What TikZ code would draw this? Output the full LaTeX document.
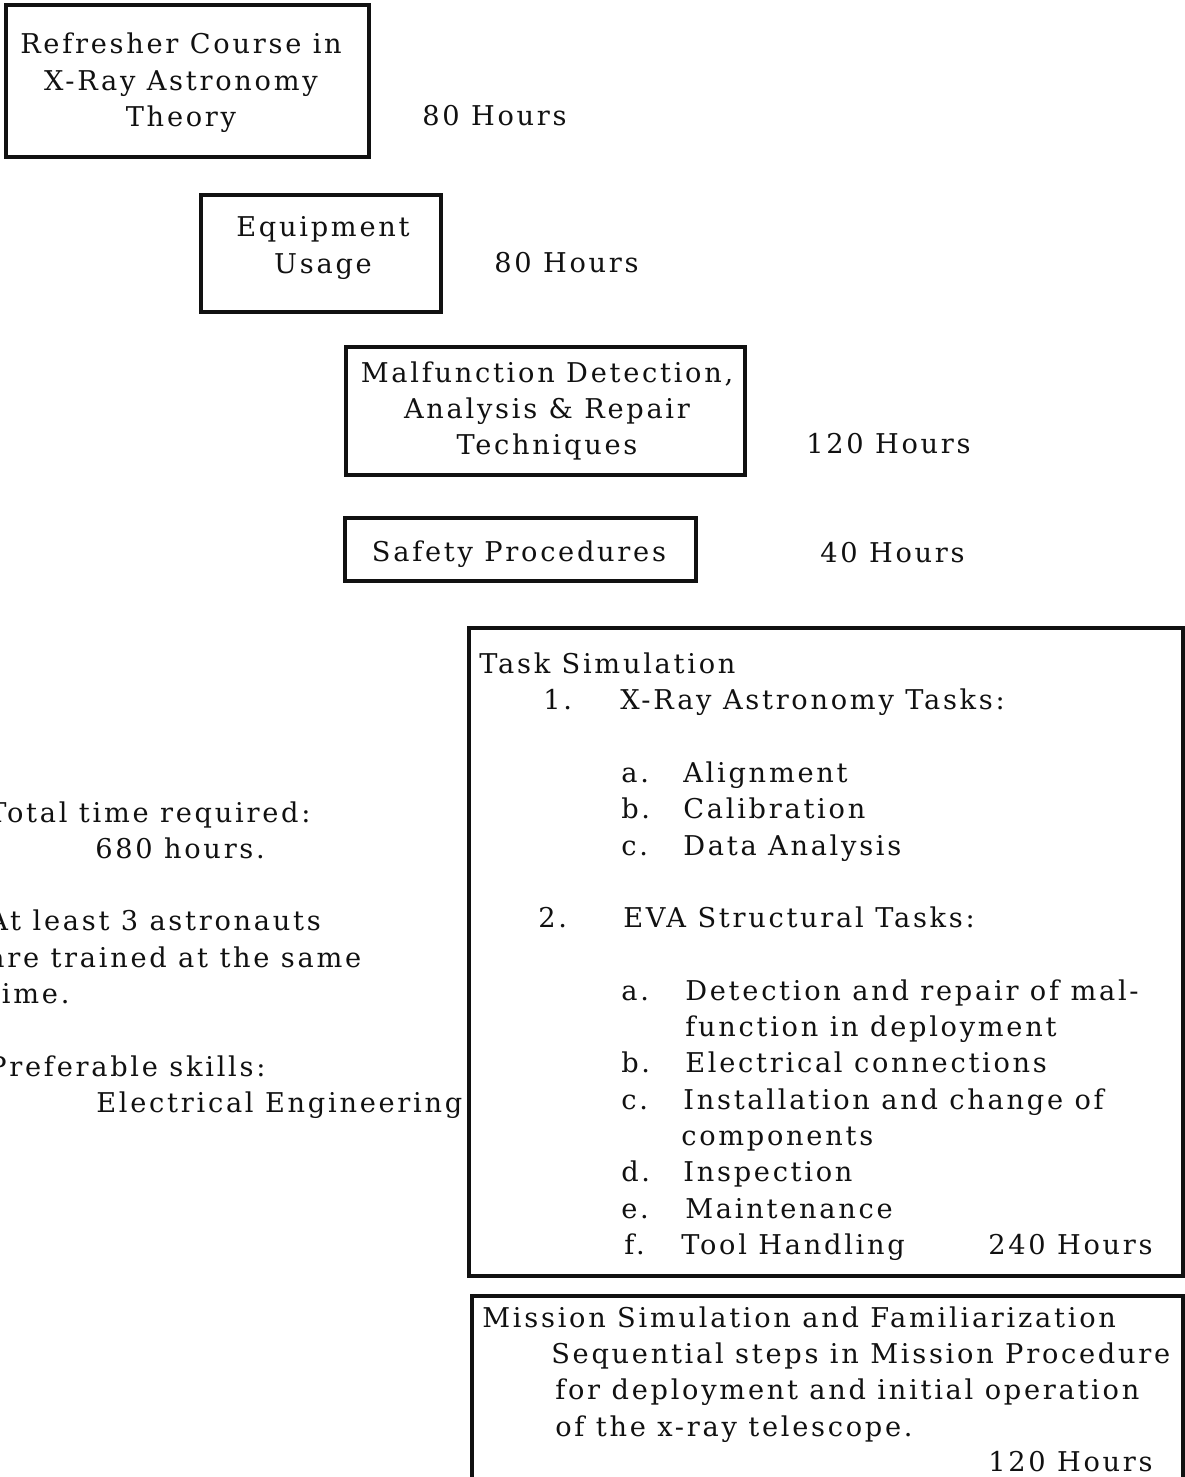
\documentclass[tikz,border=0pt]{standalone}
\usepackage{fontspec}
\setmainfont{DejaVu Serif}[LetterSpace=10]
\usepackage{xcolor}
\usepackage{tikz}
\usetikzlibrary{positioning}
\definecolor{inkc}{HTML}{111111}
\tikzset{
  frame/.style={draw=inkc,line width=2.2pt},
  txt/.style={inner sep=0pt,anchor=base west,text=inkc},
  ctr/.style={inner sep=0pt,align=center,text=inkc}
}

\begin{document}
\begin{tikzpicture}[x=0.02cm,y=-0.02cm,font=\fontsize{15.5}{20.7}\selectfont]
\useasboundingbox (0,0) rectangle (1185,1477);
% course blocks
\draw[frame] (6,5) rectangle (369,157);
\node[ctr] (refresh) at (181,83) {Refresher Course in\\X-Ray Astronomy\\Theory};
\node[txt] (h1) at (422,126) {80 Hours};
\draw[frame] (201,195) rectangle (441,312);
\node[ctr] (equip) at (323,248) {Equipment\\Usage};
\node[txt] (h2) at (494,272) {80 Hours};
\draw[frame] (346,347) rectangle (745,475);
\node[ctr] (malf) at (547,411) {Malfunction Detection,\\Analysis \& Repair\\Techniques};
\node[txt] (h3) at (806,453) {120 Hours};
\draw[frame] (345,518) rectangle (696,581);
\node[ctr] (safety) at (519,554) {Safety Procedures};
\node[txt] (h4) at (820,562) {40 Hours};
% notes on the left
\node[txt] (tot) at (-12,822) {Total time required:};
\node[txt] (tot2) at (95,858) {680 hours.};
\node[txt] (crew) at (-12,930) {At least 3 astronauts};
\node[txt] (crew2) at (-12,967) {are trained at the same};
\node[txt] (crew3) at (-12,1003) {time.};
\node[txt] (skill) at (-12,1076) {Preferable skills:};
\node[txt] (skill2) at (96,1112) {Electrical Engineering};
% task simulation
\draw[frame] (469,628) rectangle (1183,1276);
\node[txt] (task) at (479,673) {Task Simulation};
\node[txt] (n1) at (543,709) {1.};
\node[txt] (xray) at (620,709) {X-Ray Astronomy Tasks:};
\node[txt] (xa) at (621,782) {a.};
\node[txt] (xa2) at (683,782) {Alignment};
\node[txt] (xb) at (621,818) {b.};
\node[txt] (xb2) at (683,818) {Calibration};
\node[txt] (xc) at (621,855) {c.};
\node[txt] (xc2) at (683,855) {Data Analysis};
\node[txt] (n2) at (538,927) {2.};
\node[txt] (eva) at (623,927) {EVA Structural Tasks:};
\node[txt] (ea) at (621,1000) {a.};
\node[txt] (ea2) at (685,1000) {Detection and repair of mal-};
\node[txt] (ea3) at (685,1036) {function in deployment};
\node[txt] (eb) at (621,1072) {b.};
\node[txt] (eb2) at (685,1072) {Electrical connections};
\node[txt] (ec) at (621,1109) {c.};
\node[txt] (ec2) at (683,1109) {Installation and change of};
\node[txt] (ec3) at (681,1145) {components};
\node[txt] (ed) at (621,1181) {d.};
\node[txt] (ed2) at (683,1181) {Inspection};
\node[txt] (ee) at (621,1218) {e.};
\node[txt] (ee2) at (685,1218) {Maintenance};
\node[txt] (ef) at (624,1254) {f.};
\node[txt] (ef2) at (681,1254) {Tool Handling};
\node[txt] (h5) at (988,1254) {240 Hours};
% mission simulation
\draw[frame] (472,1296) rectangle (1183,1490);
\node[txt] (miss) at (482,1327) {Mission Simulation and Familiarization};
\node[txt] (miss2) at (551,1363) {Sequential steps in Mission Procedure};
\node[txt] (miss3) at (555,1399) {for deployment and initial operation};
\node[txt] (miss4) at (555,1436) {of the x-ray telescope.};
\node[txt] (h6) at (988,1471) {120 Hours};
\end{tikzpicture}
\end{document}
